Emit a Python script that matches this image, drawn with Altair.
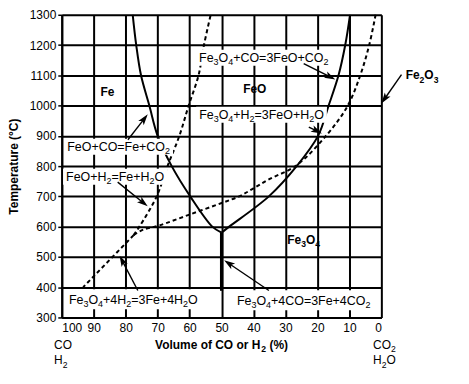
import math
import altair as alt
import pandas as pd

# ---------------- data ----------------
# CO equilibrium curves (solid)
co_feo_fe_x = [50, 52.9, 59.8, 65.6, 70.0, 72.6, 75.2, 76.7, 77.8]
co_feo_fe_t = [580, 600, 700, 800, 900, 1000, 1100, 1200, 1300]
co_fe3o4_feo_x = [50, 47.6, 35.2, 26.5, 19.8, 16.5, 13.4, 11.3, 9.8]
co_fe3o4_feo_t = [580, 600, 700, 800, 900, 1000, 1100, 1200, 1300]
co_fe3o4_fe_x = [50, 50]
co_fe3o4_fe_t = [580, 388]

# H2 equilibrium curves (dashed)
h2_feo_fe_x = [77.5, 75.7, 70.3, 66.9, 63.2, 60.3, 57.2, 55.5, 53.4]
h2_feo_fe_t = [572, 600, 700, 800, 900, 1000, 1100, 1200, 1300]
h2_fe3o4_feo_x = [77.5, 74.5, 69.5, 60, 50, 44.5, 40.4, 35.2, 26.5, 17.0, 10.5, 6.6, 3.8, 1.8]
h2_fe3o4_feo_t = [572, 590, 604, 640, 678, 700, 724, 756, 803, 904, 1000, 1100, 1200, 1300]
h2_fe3o4_fe_x = [77.5, 93.3]
h2_fe3o4_fe_t = [572, 400]

# reaction labels (centre of each label)
eq_text = ["Fe₃O₄+CO=3FeO+CO₂", "Fe₃O₄+H₂=3FeO+H₂O", "FeO+CO=Fe+CO₂",
           "FeO+H₂=Fe+H₂O", "Fe₃O₄+4H₂=3Fe+4H₂O", "Fe₃O₄+4CO=3Fe+4CO₂"]
eq_x = [36.8, 37.5, 82.2, 83.3, 77.6, 24.3]
eq_t = [1158, 970, 864, 765, 360, 357]

# arrows: tail -> head
arr_tail_x = [24.3, 22.7, 79.3, 82.5, 76.2, 35.2, -6.3]
arr_tail_t = [1139, 929, 887, 747, 389, 389, 1102]
arr_head_x = [14.4, 18.6, 73.1, 73.1, 81.9, 49.2, 0.0]
arr_head_t = [1086, 908, 971, 667, 504, 489, 1007]

# phase region labels
reg_text = ["Fe", "FeO", "Fe₃O₄"]
reg_x = [85.7, 39.6, 24.3]
reg_t = [1045, 1055, 558]
ext_text = ["Fe₂O₃"]
ext_x = [-7.6]
ext_t = [1100]

# texts under the x axis
x_title = "Volume of CO or H₂ (%)"
left_gas = ["CO", "H₂"]
right_gas = ["CO₂", "H₂O"]

x_ticks = list(range(0, 101, 10))
y_ticks = list(range(300, 1301, 100))

# ---------------- layout / style ----------------
W, H = 321, 304
PX_X = W / 100.0
PX_Y = H / 1000.0
FONT = "Liberation Sans"
HEAD_R = 5.8
EQ_FS = 12.5

REG_W = {' ': 278, '(': 333, ')': 333, '%': 889, '+': 584, '=': 584, 'C': 722,
         'F': 611, 'H': 722, 'O': 778, 'V': 667, 'e': 556, 'o': 556, 'l': 222,
         'u': 556, 'm': 833, 'f': 278, 'r': 333}
BOLD_W = {' ': 278, '(': 333, ')': 333, '%': 889, '+': 584, '=': 584, 'C': 722,
          'F': 611, 'H': 722, 'O': 778, 'V': 667, 'e': 556, 'o': 611, 'l': 278,
          'u': 611, 'm': 889, 'f': 333, 'r': 389}
SUBS = {'₀': '0', '₁': '1', '₂': '2', '₃': '3', '₄': '4',
        '₅': '5', '₆': '6', '₇': '7', '₈': '8', '₉': '9'}


def char_w(c, bold):
    if c.isdigit():
        return 0.556
    return (BOLD_W if bold else REG_W).get(c, 556) / 1000.0


def runs(s):
    out = []
    for ch in s:
        sub = ch in SUBS
        c = SUBS.get(ch, ch)
        if out and out[-1][1] == sub:
            out[-1][0] += c
        else:
            out.append([c, sub])
    return out


def layout(s, fs, bold, align):
    """pieces (text, px offset from anchor, baseline shift px, size) and total width"""
    pieces = []
    pos = 0.0
    for txt, sub in runs(s):
        size = fs * 0.72 if sub else fs
        shift = fs * 0.26 if sub else 0.0
        stripped = txt.lstrip(' ')
        pos += (len(txt) - len(stripped)) * char_w(' ', bold) * size
        pieces.append((stripped, pos, shift, size))
        pos += sum(char_w(c, bold) for c in stripped) * size
    start = -pos / 2 if align == "center" else 0.0
    return [(t, start + p, sh, sz) for t, p, sh, sz in pieces], pos


def data_pieces(texts, xs_, ts_, fs, bold, align):
    rows, widths = [], []
    for s, ax, at in zip(texts, xs_, ts_):
        pcs, w = layout(s, fs, bold, align)
        widths.append(w)
        base = 0.35 * fs  # alphabetic baseline below visual centre
        for t, off, sh, sz in pcs:
            rows.append({"txt": t, "x": ax - off / PX_X,
                         "t": at - (base + sh) / PX_Y, "fs": sz})
    return rows, widths


def pixel_pieces(texts, xs_, pys, fs, bold, align):
    rows = []
    for s, ax, py in zip(texts, xs_, pys):
        pcs, w = layout(s, fs, bold, align)
        base = 0.35 * fs
        for t, off, sh, sz in pcs:
            rows.append({"txt": t, "x": ax - off / PX_X, "py": py + base + sh, "fs": sz})
    return rows


xs = alt.Scale(domain=[0, 100], reverse=True, nice=False, zero=False)
ys = alt.Scale(domain=[300, 1300], nice=False, zero=False)

xaxis = alt.Axis(values=x_ticks, title=None, grid=True,
                 gridColor="black", gridWidth=2, gridOpacity=1,
                 domainColor="black", domainWidth=2, ticks=False,
                 labelFontSize=12, labelColor="black", labelPadding=5,
                 labelFont=FONT, labelOverlap=False, format="d")
yaxis = alt.Axis(values=y_ticks, title="Temperature (°C)", grid=True,
                 gridColor="black", gridWidth=2, gridOpacity=1,
                 domainColor="black", domainWidth=2, tickSize=4,
                 tickColor="black", tickWidth=1.5,
                 labelFontSize=12, labelColor="black", labelPadding=2,
                 labelFont=FONT, labelOverlap=False, format="d",
                 titleFontSize=12, titleFontWeight="bold", titleColor="black",
                 titleFont=FONT, titlePadding=9)


def X(f):
    return alt.X(f, type="quantitative", scale=xs, axis=xaxis)


def Y(f):
    return alt.Y(f, type="quantitative", scale=ys, axis=yaxis)


def curve_df(specs):
    rows = []
    for name, xv, tv in specs:
        for i, (a, b) in enumerate(zip(xv, tv)):
            rows.append({"curve": name, "ord": i, "x": a, "t": b})
    return pd.DataFrame(rows)


solid_df = curve_df([("co1", co_feo_fe_x, co_feo_fe_t),
                     ("co2", co_fe3o4_feo_x, co_fe3o4_feo_t)])
vert_df = curve_df([("co3", co_fe3o4_fe_x, co_fe3o4_fe_t)])
dash_curve_df = curve_df([("h1", h2_feo_fe_x, h2_feo_fe_t),
                          ("h2", h2_fe3o4_feo_x, h2_fe3o4_feo_t)])
dash_line_df = curve_df([("h3", h2_fe3o4_fe_x, h2_fe3o4_fe_t)])

# reaction labels as text pieces (with lowered subscripts)
eq_rows, eq_widths = data_pieces(eq_text, eq_x, eq_t, EQ_FS, False, "center")
eq_df = pd.DataFrame(eq_rows)

box_rows = []
for cx, ct, w in zip(eq_x, eq_t, eq_widths):
    bw = w + 6
    bh = 10 if ct < 400 else 8
    box_rows.append({"x": cx + (bw / 2) / PX_X, "x2": cx - (bw / 2) / PX_X,
                     "t": ct - bh / PX_Y, "t2": ct + bh / PX_Y})
box_df = pd.DataFrame(box_rows)

reg_rows, _ = data_pieces(reg_text, reg_x, reg_t, 12, True, "center")
ext_rows, _ = data_pieces(ext_text, ext_x, ext_t, 12, True, "left")
bold_df = pd.DataFrame(reg_rows + ext_rows)

under_reg_df = pd.DataFrame(
    pixel_pieces(left_gas, [102.4, 102.4], [H + 27, H + 43], 12, False, "left") +
    pixel_pieces(right_gas, [2.6, 2.6], [H + 27, H + 43], 12, False, "left"))
under_bold_df = pd.DataFrame(pixel_pieces([x_title], [50], [H + 27], 12, True, "center"))

arr_rows = []
head_rows = []
for tx, tt, hx, ht in zip(arr_tail_x, arr_tail_t, arr_head_x, arr_head_t):
    dxp = -(hx - tx) * PX_X
    dyp = -(ht - tt) * PX_Y
    L = math.hypot(dxp, dyp)
    ux, uy = dxp / L, dyp / L
    ang = math.degrees(math.atan2(ux, -uy)) % 360
    cx = hx + ux * HEAD_R / PX_X
    ct = ht + uy * HEAD_R / PX_Y
    arr_rows.append({"x": tx, "t": tt, "x2": cx, "t2": ct})
    head_rows.append({"x": cx, "t": ct, "ang": ang})
arr_df = pd.DataFrame(arr_rows)
head_df = pd.DataFrame(head_rows)

solid = alt.Chart(solid_df).mark_line(color="black", strokeWidth=2,
                                      interpolate="catmull-rom").encode(
    x=X("x"), y=Y("t"), detail="curve:N", order="ord:Q")
vert = alt.Chart(vert_df).mark_line(color="black", strokeWidth=3.2).encode(
    x=X("x"), y=Y("t"), detail="curve:N", order="ord:Q")
dashed = alt.Chart(dash_curve_df).mark_line(color="black", strokeWidth=2,
                                            strokeDash=[4, 3],
                                            interpolate="catmull-rom").encode(
    x=X("x"), y=Y("t"), detail="curve:N", order="ord:Q")
dashed2 = alt.Chart(dash_line_df).mark_line(color="black", strokeWidth=2,
                                            strokeDash=[4, 3]).encode(
    x=X("x"), y=Y("t"), detail="curve:N", order="ord:Q")

boxes = alt.Chart(box_df).mark_rect(color="white").encode(
    x=X("x"), x2="x2", y=Y("t"), y2="t2")


def text_layer(df, bold, pixel_y=False):
    m = alt.Chart(df).mark_text(font=FONT, color="black", align="left",
                                baseline="alphabetic",
                                fontWeight="bold" if bold else "normal")
    yenc = alt.Y("py:Q", scale=None) if pixel_y else Y("t")
    return m.encode(x=X("x"), y=yenc, text="txt:N",
                    size=alt.Size("fs:Q", scale=None, legend=None))


eqs = text_layer(eq_df, False)
bolds = text_layer(bold_df, True)
under_reg = text_layer(under_reg_df, False, pixel_y=True)
under_bold = text_layer(under_bold_df, True, pixel_y=True)

arrows = alt.Chart(arr_df).mark_rule(color="black", strokeWidth=1.4).encode(
    x=X("x"), y=Y("t"), x2="x2", y2="t2")
heads = alt.Chart(head_df).mark_point(
    shape="M0,-1L0.6,0.9L0,0.45L-0.6,0.9Z", filled=True, color="black",
    opacity=1, size=(2 * HEAD_R) ** 2).encode(
    x=X("x"), y=Y("t"), angle=alt.Angle("ang:Q", scale=None))

chart = alt.layer(solid, vert, dashed, dashed2, boxes, eqs, arrows, heads, bolds,
                  under_reg, under_bold).properties(
    width=W, height=H,
    autosize=alt.AutoSizeParams(type="none"),
    padding={"left": 54, "top": 6, "right": 80, "bottom": 58},
).configure_view(stroke=None).configure(background="white")

chart.save("out.html", embed_options={"renderer": "svg", "actions": False})
